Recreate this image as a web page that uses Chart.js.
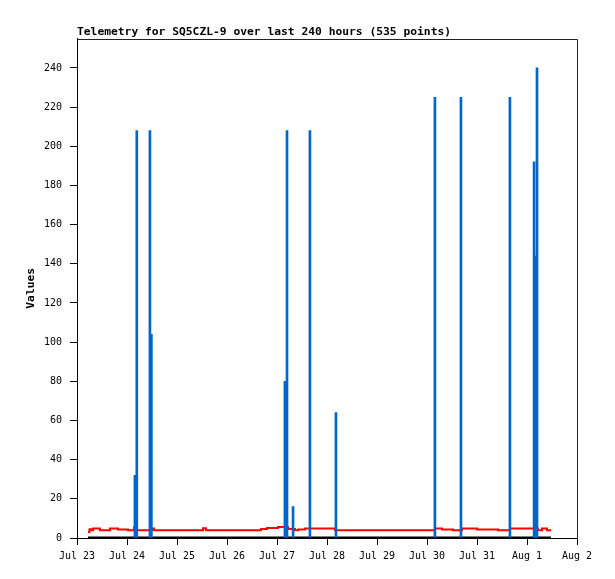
<!DOCTYPE html>
<html>
<head>
<meta charset="utf-8">
<script src="https://cdn.jsdelivr.net/npm/chart.js@4"></script>
<style>
  html, body { margin: 0; padding: 0; background: #fff; }
  #wrap { width: 615px; height: 579px; }
</style>
</head>
<body>
<div id="wrap"><canvas id="chart" width="615" height="579"></canvas></div>
<script>
const titleText = "Telemetry for SQ5CZL-9 over last 240 hours (535 points)";

// x axis is hours since Jul 23 00:00, one tick per day
const dayLabels = ["Jul 23", "Jul 24", "Jul 25", "Jul 26", "Jul 27", "Jul 28",
  "Jul 29", "Jul 30", "Jul 31", "Aug 1", "Aug 2"];
const yTicks = [0, 20, 40, 60, 80, 100, 120, 140, 160, 180, 200, 220, 240];

// blue spikes
const spikeHours = [27.8, 28.7, 35.0, 35.7, 99.8, 100.8, 103.7, 111.8, 124.3,
  171.8, 184.3, 207.8, 219.4, 220.1, 220.8];
const spikeValues = [32, 208, 208, 104, 80, 208, 16, 208, 64,
  225, 225, 225, 192, 144, 240];

// red series (stepped)
const redHours = [5.3, 6.0, 7.1, 7.7, 11.0, 15.8, 19.7, 24.5, 27.4, 27.8, 36.0, 37.0,
  60.5, 61.9, 88.3, 91.2, 96.5, 101.3, 104.6, 106.1, 109.4, 123.8,
  171.8, 175.2, 180.5, 184.8, 192.0, 202.1, 207.8, 221.3, 223.2, 225.6, 227.5];
const redValues = [3, 4.5, 4, 4.8, 4, 4.8, 4.4, 4, 5.5, 4, 4.8, 4,
  5, 4, 4.6, 5.1, 5.6, 4.6, 3.9, 4.4, 4.8, 4,
  4.8, 4.4, 4, 4.8, 4.4, 4, 4.8, 4, 4.8, 4, 4];

// black series, flat at zero
const blackHours = [5.3, 227.5];
const blackValues = [0, 0];

const toPoints = (xs, ys) => xs.map((x, i) => ({ x: x, y: ys[i] }));

const monoFont = "'DejaVu Sans Mono', 'Liberation Mono', monospace";

// frame on top and right of the plot
const framePlugin = {
  id: "frame",
  afterDraw(chart) {
    const { ctx, chartArea: a } = chart;
    ctx.save();
    ctx.strokeStyle = "#222";
    ctx.lineWidth = 1;
    ctx.beginPath();
    ctx.moveTo(Math.round(a.left) + 0.5, Math.round(a.top) + 0.5);
    ctx.lineTo(Math.round(a.right) + 0.5, Math.round(a.top) + 0.5);
    ctx.lineTo(Math.round(a.right) + 0.5, Math.round(a.bottom) + 0.5);
    ctx.stroke();
    ctx.restore();
  },
};

new Chart(document.getElementById("chart"), {
  type: "bar",
  data: {
    datasets: [
      {
        type: "bar",
        data: toPoints(spikeHours, spikeValues),
        backgroundColor: "rgb(0, 102, 204)",
        borderWidth: 0,
        barThickness: 2,
      },
      {
        type: "line",
        data: toPoints(blackHours, blackValues),
        borderColor: "#000",
        borderWidth: 3,
        pointRadius: 0,
      },
      {
        type: "line",
        data: toPoints(redHours, redValues),
        borderColor: "rgb(255, 0, 0)",
        borderWidth: 2,
        stepped: true,
        pointRadius: 0,
      },
    ],
  },
  options: {
    responsive: false,
    animation: false,
    devicePixelRatio: 1,
    layout: { padding: { left: 0, right: 38, top: 0, bottom: 0 } },
    plugins: {
      legend: { display: false },
      tooltip: { enabled: false },
      title: {
        display: true,
        text: titleText,
        align: "start",
        fullSize: false,
        color: "#000",
        font: { family: monoFont, size: 11.3, weight: "bold" },
        padding: { top: 25, bottom: 0 },
      },
    },
    scales: {
      x: {
        type: "linear",
        min: 0,
        max: 240,
        offset: false,
        afterFit: (s) => { s.height = 41; },
        afterBuildTicks: (s) => {
          s.ticks = dayLabels.map((_, i) => ({ value: i * 24 }));
        },
        ticks: {
          autoSkip: false,
          maxRotation: 0,
          padding: 5,
          color: "#000",
          font: { family: monoFont, size: 10 },
          callback: (v) => dayLabels[Math.round(v / 24)],
        },
        grid: { offset: false, drawOnChartArea: false, tickLength: 7, color: "#000" },
        border: { display: true, color: "#000", width: 1 },
      },
      y: {
        type: "linear",
        min: 0,
        max: 255,
        afterFit: (s) => { s.width = 77; },
        afterBuildTicks: (s) => {
          s.ticks = yTicks.map((v) => ({ value: v }));
        },
        ticks: {
          padding: 8,
          color: "#000",
          font: { family: monoFont, size: 10 },
        },
        grid: { drawOnChartArea: false, tickLength: 7, color: "#000" },
        border: { display: true, color: "#000", width: 1 },
        title: {
          display: true,
          text: "Values",
          color: "#000",
          font: { family: monoFont, size: 11.3, weight: "bold" },
          padding: { top: 24, bottom: 0 },
        },
      },
    },
  },
  plugins: [framePlugin],
});
</script>
</body>
</html>
